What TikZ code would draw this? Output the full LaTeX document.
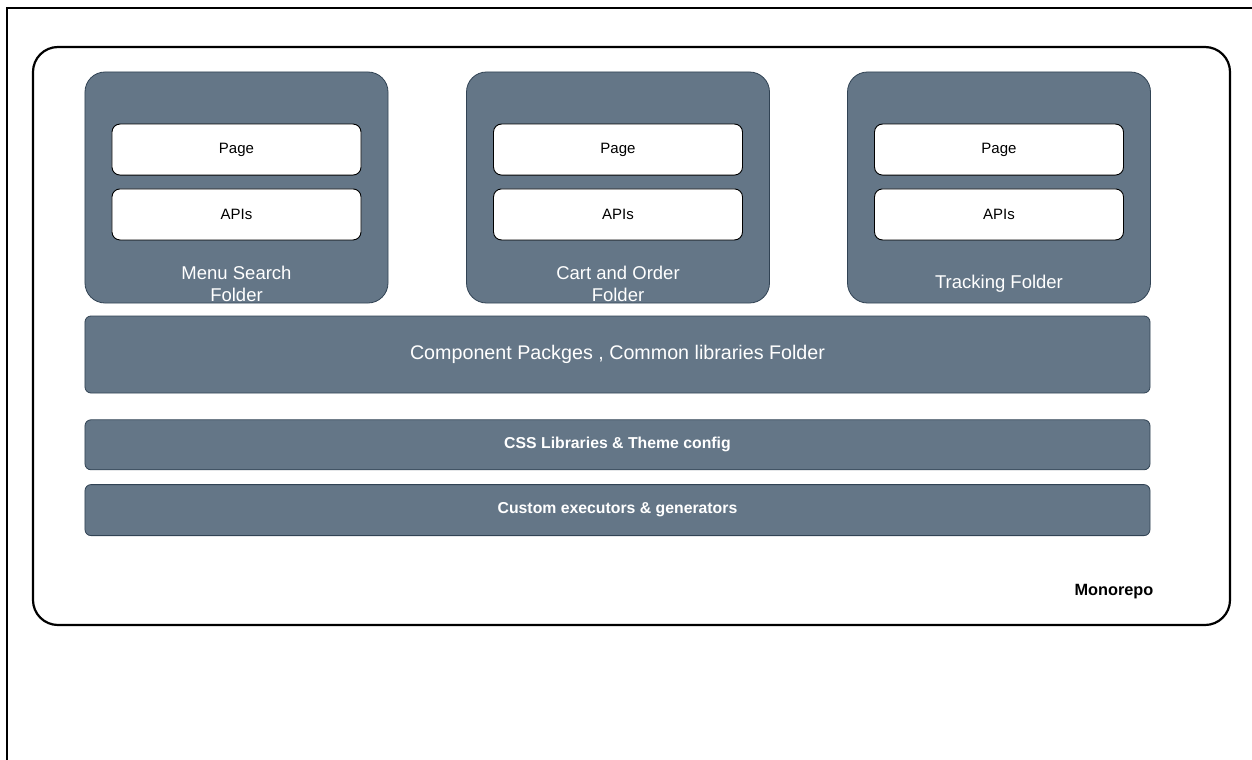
\documentclass[tikz,border=0pt]{standalone}
\usepackage{fontspec}
\setmainfont{Liberation Sans}
\usetikzlibrary{positioning}
\definecolor{slate}{HTML}{647687}
\definecolor{slateline}{HTML}{314354}

\begin{document}
\begin{tikzpicture}[x=1bp,y=-1bp,
  repo/.style={rectangle,rounded corners=25bp,draw=black,fill=white,line width=2.2bp,minimum width=1197bp,minimum height=578bp},
  folder/.style={rectangle,rounded corners=20bp,draw=slateline,fill=slate,line width=0.8bp,minimum width=303bp,minimum height=231bp,inner sep=0pt},
  part/.style={rectangle,rounded corners=8bp,draw=black,fill=white,line width=0.9bp,minimum width=249bp,minimum height=51bp,inner sep=0pt,font=\fontsize{15bp}{18bp}\selectfont},
  foldertext/.style={text=white,align=center,inner sep=0pt,font=\fontsize{18.5bp}{22bp}\selectfont},
  layer/.style={rectangle,rounded corners=6bp,draw=slateline,fill=slate,line width=0.8bp,minimum width=1065bp,inner sep=0pt,text=white},
  layerbold/.style={layer,font=\bfseries\fontsize{15.8bp}{18bp}\selectfont}]
  \useasboundingbox (0,0) rectangle (1252,760);
  \draw[line width=1.5bp] (7,760) -- (7,8) -- (1252,8);
  \node[repo] (repo) at (631.5,336) {};
  \node[font=\bfseries\fontsize{16.3bp}{18bp}\selectfont,inner sep=0pt] (repolbl) at (1114,592) {Monorepo};
  \node[folder] (menu) at (236.5,187.5) {};
  \node[folder] (cart) at (618,187.5) {};
  \node[folder] (track) at (999,187.5) {};
  \node[part,below=52bp of menu.north] (menupage) {Page};
  \node[part,below=13bp of menupage] (menuapi) {APIs};
  \node[part,below=52bp of cart.north] (cartpage) {Page};
  \node[part,below=13bp of cartpage] (cartapi) {APIs};
  \node[part,below=52bp of track.north] (trackpage) {Page};
  \node[part,below=13bp of trackpage] (trackapi) {APIs};
  \node[foldertext] (menulbl) at ([yshift=19.5bp]menu.south) {Menu Search\\Folder};
  \node[foldertext] (cartlbl) at ([yshift=19.5bp]cart.south) {Cart and Order\\Folder};
  \node[foldertext] (tracklbl) at ([yshift=19.5bp]track.south) {Tracking Folder};
  \node[layer,minimum height=77bp,font=\fontsize{19.7bp}{22bp}\selectfont] (common) at (617.5,354.5) {Component Packges , Common libraries Folder};
  \node[layerbold,minimum height=50bp,below=26bp of common] (css) {CSS Libraries \& Theme config};
  \node[layerbold,minimum height=51bp,below=14bp of css] (custom) {Custom executors \& generators};
\end{tikzpicture}
\end{document}
